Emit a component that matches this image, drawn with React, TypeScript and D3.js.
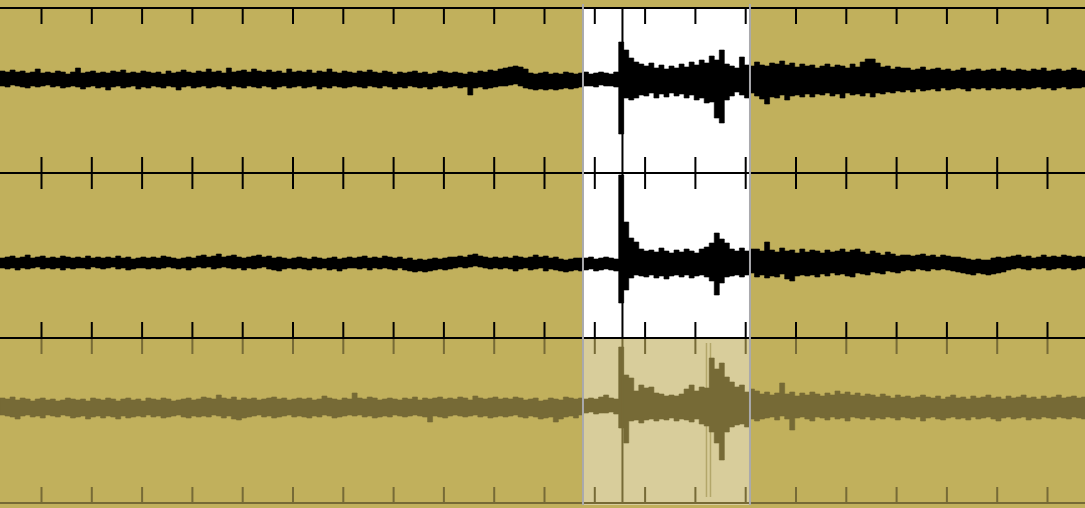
import React from "react";
import * as d3 from "d3";

const W = 1085;
const H = 508;

// time axis: seconds, tick every 10 s
const tickDomain = [0, 200];
const sampleStart = -8.25; // first sample time (s), 1 sample per second

// selection window / pick markers (seconds)
const windowRange = [107.65, 140.85];
const pickTime = 115.5;
const extraMarks = [132.2, 133.0];

// panel amplitude domains [min, max]
const panelDomains = [
  [-95, 70],
  [-75, 90],
  [-96, 69],
];

// envelope (max / min per second) for the three components
const hi1 = [
  7,6,8,6,7,5,6,9,5,6, 5,7,6,4,6,10,5,6,7,5, 6,5,7,6,8,5,6,5,7,6, 5,6,4,7,5,6,8,6,5,7,
  6,9,6,7,5,10,6,7,8,6, 9,7,6,8,6,7,5,9,6,7, 6,8,5,7,6,9,6,5,7,6, 5,7,6,8,6,5,7,6,4,6,
  5,6,7,5,6,4,5,7,6,5, 6,5,4,6,5,7,6,8,7,9, 10,11,12,11,9,5,4,5,6,4, 5,4,6,5,4,5,6,4,5,6,
  5,4,6,36,28,20,16,14,12,15, 10,13,9,12,10,14,11,16,13,18, 15,22,18,28,14,12,10,21,13,12,
  16,13,12,15,14,17,13,15,11,14, 12,13,10,12,14,11,13,12,10,14, 11,16,19,19,15,11,12,9,11,10,
  10,8,9,11,8,9,10,8,9,7, 8,10,7,8,9,7,8,9,7,10, 8,7,9,8,7,9,8,10,7,8, 9,7,8,10,8,7,
];
const lo1 = [
  -8,-9,-7,-8,-9,-10,-8,-9,-8,-7, -9,-8,-10,-9,-8,-9,-11,-9,-8,-10, -9,-12,-9,-8,-10,-9,-8,-11,-9,-10,
  -8,-9,-10,-8,-9,-12,-9,-8,-10,-9, -8,-10,-9,-8,-9,-11,-8,-9,-10,-8, -9,-10,-8,-9,-11,-9,-8,-10,-9,-8,
  -10,-9,-8,-11,-9,-10,-8,-9,-10,-9, -8,-9,-10,-8,-9,-10,-8,-9,-11,-9, -10,-8,-9,-10,-9,-11,-9,-8,-10,-9,
  -8,-10,-9,-17,-10,-9,-11,-10,-9,-8, -8,-7,-6,-8,-10,-11,-12,-11,-12,-11, -12,-11,-10,-11,-10,-9,-8,-8,-9,-7,
  -8,-8,-9,-56,-20,-22,-20,-17,-18,-15, -20,-16,-19,-15,-18,-16,-20,-17,-22,-20, -25,-24,-40,-45,-22,-18,-14,-17,-20,-15,
  -18,-21,-26,-19,-20,-17,-22,-18,-17,-19, -16,-19,-16,-17,-15,-18,-16,-20,-15,-17, -16,-18,-15,-19,-15,-16,-14,-15,-13,-14,
  -12,-14,-11,-13,-12,-11,-13,-10,-12,-11, -10,-11,-13,-10,-11,-10,-12,-10,-11,-10, -11,-10,-12,-10,-11,-10,-9,-11,-10,-12,
  -10,-9,-11,-10,-10,-9,
];
const hi2 = [
  5,6,7,5,6,8,5,6,7,5, 6,5,7,6,5,6,5,7,5,6, 5,6,5,7,5,6,4,5,6,5, 6,5,7,6,5,4,5,6,5,7,
  8,6,7,9,6,7,8,6,5,6, 7,8,6,7,5,6,5,4,5,6, 5,4,6,5,4,5,6,4,5,6, 5,6,7,5,6,5,7,6,5,6,
  4,5,3,4,3,4,5,4,5,6, 6,7,6,8,9,7,6,5,6,5, 6,5,7,6,5,6,8,6,7,5, 6,4,3,4,5,5,5,6,4,5,
  6,5,4,88,41,25,21,14,12,13, 11,15,12,10,13,11,14,12,10,14, 16,20,30,24,20,14,12,15,12,14,
  14,12,21,13,11,15,12,13,10,14, 11,13,12,10,13,11,12,14,11,13, 14,11,9,12,10,8,11,9,7,8,
  8,7,8,9,7,8,6,8,7,6, 6,5,4,3,4,3,3,5,6,5, 6,7,8,6,7,5,6,8,6,7, 6,8,7,6,7,6,
];
const lo2 = [
  -5,-6,-5,-7,-5,-6,-5,-4,-6,-5, -6,-5,-7,-5,-6,-5,-5,-6,-4,-5, -6,-5,-4,-6,-5,-7,-6,-5,-5,-6,
  -5,-6,-5,-4,-5,-6,-5,-7,-5,-4, -5,-4,-6,-5,-4,-5,-6,-5,-7,-5, -6,-5,-4,-6,-7,-8,-6,-5,-6,-5,
  -6,-7,-5,-6,-5,-7,-6,-8,-6,-5, -5,-6,-5,-7,-5,-6,-5,-6,-7,-5, -7,-8,-9,-8,-9,-8,-7,-6,-7,-6,
  -5,-4,-5,-4,-3,-4,-5,-6,-5,-6, -5,-6,-8,-6,-5,-7,-6,-5,-8,-6, -7,-8,-9,-8,-7,-8,-7,-6,-8,-7,
  -6,-7,-8,-40,-27,-15,-12,-13,-14,-12, -15,-13,-16,-13,-12,-14,-12,-15,-13,-12, -14,-18,-32,-20,-14,-13,-12,-14,-12,-10,
  -14,-12,-15,-13,-14,-11,-16,-18,-13,-12, -13,-12,-14,-11,-13,-10,-12,-11,-13,-14, -10,-11,-12,-9,-10,-11,-8,-9,-10,-8,
  -7,-8,-6,-7,-8,-6,-7,-6,-7,-8, -9,-10,-11,-12,-10,-11,-12,-11,-10,-9, -7,-6,-5,-6,-7,-5,-6,-5,-7,-6,
  -5,-6,-5,-7,-6,-5,
];
const hi3 = [
  9,8,10,7,9,8,6,8,9,7, 8,6,7,9,8,7,8,6,9,8, 7,9,8,6,8,9,7,8,6,9, 8,7,9,8,6,7,8,9,7,8,
  10,9,8,12,9,8,10,7,9,8, 9,7,8,9,10,8,9,7,8,9, 8,9,7,8,11,9,8,7,9,8, 14,9,8,10,9,7,8,9,8,7,
  9,8,10,7,9,8,9,10,8,9, 8,10,9,7,11,9,8,9,10,8, 9,8,10,9,7,8,9,6,7,9, 8,7,10,9,8,9,8,9,8,10,
  12,9,8,60,32,29,16,22,19,20, 14,13,11,12,11,13,18,22,16,20, 19,49,38,44,30,25,20,22,15,18,
  16,13,15,12,14,24,13,15,11,14, 12,15,13,11,14,12,16,13,15,12, 14,11,13,12,10,13,11,9,12,10,
  11,9,10,12,10,9,11,8,10,12, 9,10,8,11,9,10,12,9,10,8, 11,9,10,12,9,10,8,11,9,10, 12,9,10,11,9,10,
];
const lo3 = [
  -8,-9,-10,-12,-9,-8,-10,-9,-11,-8, -9,-10,-8,-9,-11,-10,-9,-12,-10,-9, -11,-9,-10,-12,-9,-11,-10,-9,-10,-8,
  -10,-9,-11,-10,-9,-8,-10,-11,-9,-10, -9,-10,-8,-9,-11,-9,-12,-13,-11,-10, -9,-8,-10,-9,-11,-10,-9,-8,-10,-9,
  -10,-11,-9,-10,-8,-9,-11,-10,-9,-8, -9,-8,-10,-9,-11,-10,-9,-10,-8,-9, -10,-9,-8,-9,-10,-15,-9,-10,-11,-9,
  -8,-9,-10,-9,-8,-10,-9,-11,-10,-9, -10,-9,-8,-10,-11,-9,-10,-12,-11,-10, -15,-12,-10,-9,-11,-8,-6,-5,-7,-6,
  -6,-5,-7,-21,-36,-14,-13,-16,-13,-12, -14,-12,-13,-11,-14,-12,-13,-15,-12,-17, -19,-25,-36,-53,-25,-20,-18,-17,-20,-12,
  -14,-12,-11,-10,-13,-9,-12,-23,-11,-10, -12,-14,-10,-11,-13,-10,-12,-11,-14,-10, -11,-12,-10,-13,-11,-12,-10,-11,-13,-10,
  -11,-12,-10,-14,-11,-10,-12,-13,-11,-10, -12,-11,-13,-10,-12,-11,-10,-12,-14,-11, -10,-12,-11,-10,-13,-11,-12,-10,-11,-12,
  -10,-11,-12,-10,-11,-12,
];

const traces = [
  { hi: hi1, lo: lo1 },
  { hi: hi2, lo: lo2 },
  { hi: hi3, lo: lo3 },
];

const BG = "#c1b05c";
const DARK = "#766a36";
const TINT = "#d8cd9b";
const GRAY = "#a9a9ad";

type P = { t: number; hi: number; lo: number };

export default function App() {
  const x = d3.scaleLinear().domain(tickDomain).range([41.5, 1047.5]);
  const ticks = x.ticks(20);
  const panelTop = 8;
  const panelH = 165;
  const panels = traces.map((tr, k) => {
    const top = panelTop + k * panelH;
    const y = d3
      .scaleLinear()
      .domain(panelDomains[k])
      .range([top + panelH, top]);
    const pts: P[] = tr.hi.map((h, i) => ({ t: sampleStart + i, hi: h, lo: tr.lo[i] }));
    const n = pts.length;
    pts.push({ t: sampleStart + n, hi: tr.hi[n - 1], lo: tr.lo[n - 1] });
    const area = d3
      .area<P>()
      .x((d) => x(d.t))
      .y0((d) => y(d.lo))
      .y1((d) => y(d.hi))
      .curve(d3.curveStepAfter);
    return { top, y, path: area(pts) || "", k };
  });

  const wx0 = x(windowRange[0]);
  const wx1 = x(windowRange[1]);
  const px = x(pickTime);

  return (
    <svg
      width={W}
      height={H}
      style={{ position: "absolute", left: 0, top: 0, display: "block" }}
    >
      <defs>
        {panels.map((p) => (
          <clipPath id={`clip${p.k}`} key={p.k}>
            <rect x={0} y={p.top} width={W} height={panelH} />
          </clipPath>
        ))}
      </defs>
      <rect x={0} y={0} width={W} height={H} fill={BG} />
      {/* selection window */}
      <rect x={wx0} y={panelTop} width={wx1 - wx0} height={panelH * 2} fill="#ffffff" />
      <rect x={wx0} y={panelTop + panelH * 2} width={wx1 - wx0} height={panelH + 2} fill={TINT} />
      {extraMarks.map((t, i) => (
        <line
          key={i}
          x1={x(t)}
          x2={x(t)}
          y1={panelTop + panelH * 2 + 5}
          y2={panelTop + panelH * 3 - 6}
          stroke="#b3a76a"
          strokeWidth={1.5}
        />
      ))}
      {/* traces */}
      {panels.map((p) => (
        <path
          key={p.k}
          d={p.path}
          fill={p.k === 2 ? DARK : "#000"}
          stroke={p.k === 2 ? DARK : "#000"}
          strokeWidth={0.6}
          clipPath={`url(#clip${p.k})`}
        />
      ))}
      {/* pick line */}
      <line x1={px} x2={px} y1={panelTop} y2={panelTop + panelH * 2} stroke="#000" strokeWidth={2} />
      <line x1={px} x2={px} y1={panelTop + panelH * 2} y2={panelTop + panelH * 3} stroke={DARK} strokeWidth={2} />
      {/* ticks */}
      {panels.map((p) => {
        const c = p.k === 2 ? DARK : "#000";
        return (
          <g key={p.k}>
            {ticks.map((t) => (
              <g key={t}>
                <line x1={x(t)} x2={x(t)} y1={p.top} y2={p.top + 16} stroke={c} strokeWidth={2} />
                <line
                  x1={x(t)}
                  x2={x(t)}
                  y1={p.top + panelH - 16}
                  y2={p.top + panelH}
                  stroke={c}
                  strokeWidth={2}
                />
              </g>
            ))}
          </g>
        );
      })}
      {/* borders */}
      {[0, 1, 2].map((k) => (
        <line key={k} x1={0} x2={W} y1={panelTop + k * panelH} y2={panelTop + k * panelH} stroke="#000" strokeWidth={2} />
      ))}
      <line x1={0} x2={W} y1={panelTop + 3 * panelH} y2={panelTop + 3 * panelH} stroke={DARK} strokeWidth={2} />
      {/* window edges */}
      <line x1={wx0} x2={wx0} y1={4} y2={panelTop + panelH * 3 + 2} stroke={GRAY} strokeWidth={2} />
      <line x1={wx1} x2={wx1} y1={4} y2={panelTop + panelH * 3 + 2} stroke={GRAY} strokeWidth={2} />
    </svg>
  );
}
